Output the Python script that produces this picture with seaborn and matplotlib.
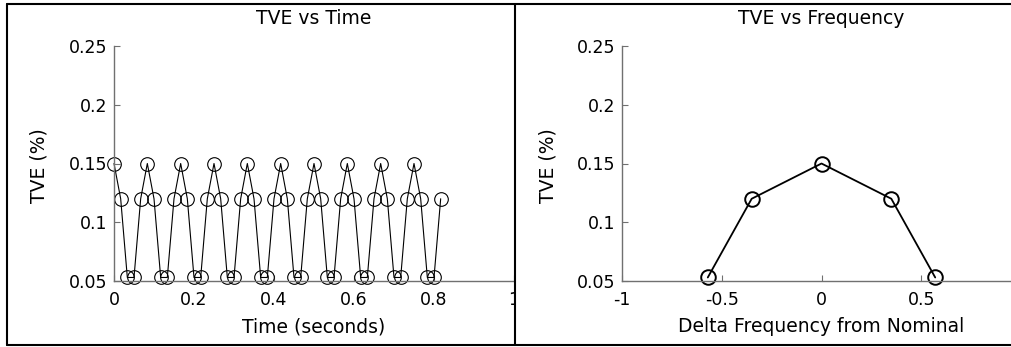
import matplotlib
matplotlib.use("Agg")
import matplotlib.pyplot as plt
import seaborn as sns
from matplotlib.patches import Rectangle
from matplotlib.lines import Line2D

# ---------------- data ----------------
time_s = [0.0, 0.0167, 0.0333, 0.05, 0.0667, 0.0833, 0.1, 0.1167, 0.1333, 0.15,
          0.1667, 0.1833, 0.2, 0.2167, 0.2333, 0.25, 0.2667, 0.2833, 0.3, 0.3167,
          0.3333, 0.35, 0.3667, 0.3833, 0.4, 0.4167, 0.4333, 0.45, 0.4667, 0.4833,
          0.5, 0.5167, 0.5333, 0.55, 0.5667, 0.5833, 0.6, 0.6167, 0.6333, 0.65,
          0.6667, 0.6833, 0.7, 0.7167, 0.7333, 0.75, 0.7667, 0.7833, 0.8, 0.8167]
tve_time = [0.15, 0.12, 0.053, 0.053, 0.12, 0.15, 0.12, 0.053, 0.053, 0.12,
            0.15, 0.12, 0.053, 0.053, 0.12, 0.15, 0.12, 0.053, 0.053, 0.12,
            0.15, 0.12, 0.053, 0.053, 0.12, 0.15, 0.12, 0.053, 0.053, 0.12,
            0.15, 0.12, 0.053, 0.053, 0.12, 0.15, 0.12, 0.053, 0.053, 0.12,
            0.15, 0.12, 0.053, 0.053, 0.12, 0.15, 0.12, 0.053, 0.053, 0.12]

delta_freq = [-0.57, -0.35, 0.0, 0.35, 0.57]
tve_freq = [0.053, 0.12, 0.15, 0.12, 0.053]

y_ticks = [0.05, 0.1, 0.15, 0.2, 0.25]
y_ticklabels = ["0.05", "0.1", "0.15", "0.2", "0.25"]
x1_ticks = [0, 0.2, 0.4, 0.6, 0.8, 1.0]
x1_ticklabels = ["0", "0.2", "0.4", "0.6", "0.8", "1"]
x2_ticks = [-1, -0.5, 0, 0.5, 1]
x2_ticklabels = ["-1", "-0.5", "0", "0.5", ""]

# ---------------- style ----------------
sns.set_style("white")
plt.rcParams["font.family"] = ["DejaVu Sans"]
plt.rcParams["text.color"] = "black"
plt.rcParams["axes.labelcolor"] = "black"
plt.rcParams["xtick.color"] = "black"
plt.rcParams["ytick.color"] = "black"

W, H = 1012, 347
fig = plt.figure(figsize=(W / 100, H / 100), dpi=100)
fig.patch.set_facecolor("white")


def px(l, t, r, b):
    return [l / W, 1 - b / H, (r - l) / W, (b - t) / H]


ax1 = fig.add_axes(px(114, 46, 514, 281), zorder=0)
ax2 = fig.add_axes(px(622, 46, 1021, 281), zorder=2)

sns.lineplot(x=time_s, y=tve_time, ax=ax1, color="black", lw=0.8,
             marker="o", ms=9.8, mfc="none", mec="black", mew=0.8,
             estimator=None, sort=False)
sns.lineplot(x=delta_freq, y=tve_freq, ax=ax2, color="black", lw=1.3,
             marker="o", ms=10.5, mfc="none", mec="black", mew=1.4,
             estimator=None, sort=False)

spine_col = "#707070"
for ax, xt, xtl, xlim, title, xlabel in [
    (ax1, x1_ticks, x1_ticklabels, (0, 1), "TVE vs Time", "Time (seconds)"),
    (ax2, x2_ticks, x2_ticklabels, (-1, 1), "TVE vs Frequency", "Delta Frequency from Nominal"),
]:
    for ln in ax.lines:
        ln.set_clip_on(False)
    ax.set_facecolor("none")
    ax.set_xlim(*xlim)
    ax.set_ylim(0.05, 0.25)
    ax.set_xticks(xt)
    ax.set_xticklabels(xtl)
    ax.set_yticks(y_ticks)
    ax.set_yticklabels(y_ticklabels)
    for s in ["top", "right"]:
        ax.spines[s].set_visible(False)
    for s in ["left", "bottom"]:
        ax.spines[s].set_color(spine_col)
        ax.spines[s].set_linewidth(1.0)
    ax.tick_params(direction="in", length=4, width=0.8, color=spine_col,
                   labelsize=12.5, labelcolor="black", bottom=True, left=True)
    ax.tick_params(axis="x", pad=7)
    ax.tick_params(axis="y", pad=5)
    ax.set_title(title, fontsize=13.5, y=1 + 28 / 235, va="center", pad=0,
                 color="black")
    ax.set_xlabel(xlabel, fontsize=13.5, color="black")
    ax.set_ylabel("TVE (%)", fontsize=13.5, color="black")
    ax.xaxis.label.set_va("center")
    ax.yaxis.label.set_va("center")
    ax.xaxis.set_label_coords(0.5, -46 / 235)

ax1.yaxis.set_label_coords((39 - 114) / 400, 0.49)
ax2.yaxis.set_label_coords((548 - 622) / 399, 0.49)

# hide the right half of the cut-off "1" tick label (panel boundary)
fig.add_artist(Rectangle((516 / W, 1 - 315 / H), 44 / W, 30 / H,
                         transform=fig.transFigure, facecolor="white",
                         edgecolor="none", zorder=1))

# panel borders
lw = 1.5
border = dict(transform=fig.transFigure, color="black", lw=lw, zorder=5)
fig.add_artist(Line2D([7 / W, 1], [1 - 4 / H, 1 - 4 / H], **border))
fig.add_artist(Line2D([7 / W, 1], [1 - 345 / H, 1 - 345 / H], **border))
fig.add_artist(Line2D([7 / W, 7 / W], [1 - 4 / H, 1 - 345 / H], **border))
fig.add_artist(Line2D([515 / W, 515 / W], [1 - 4 / H, 1 - 345 / H], **border))

fig.savefig("out.png", dpi=100, facecolor="white")
